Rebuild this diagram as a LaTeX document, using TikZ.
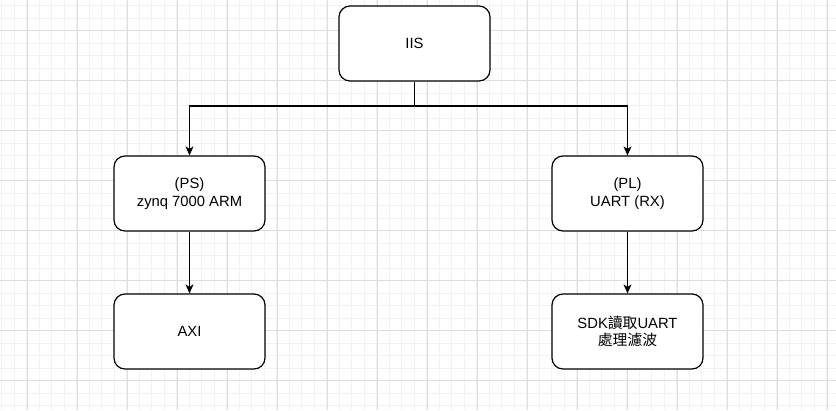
\documentclass[tikz,border=0pt]{standalone}
\usepackage{fontspec}
\setmainfont{Liberation Sans}
\newfontfamily\cjk{Noto Sans CJK TC}
\usetikzlibrary{arrows.meta}

\tikzset{
  block/.style={draw, rounded corners=11pt, line width=1.2pt, fill=white,
    minimum width=151pt, minimum height=75pt, align=center,
    font=\fontsize{14.8}{17.5}\selectfont},
  link/.style={line width=1.2pt, -{Stealth[length=9pt,width=8pt,inset=2.5pt]}}
}

\begin{document}
\begin{tikzpicture}[x=1pt,y=-1pt]

        \useasboundingbox (0,0) rectangle (836,410);

        % grid
        \foreach \k in {0,...,66}
          \draw[black!5, line width=0.9pt] ({1.9+12.5*\k},0) -- ({1.9+12.5*\k},410);
        \foreach \k in {0,...,32}
          \draw[black!5, line width=0.9pt] (0,{5.7+12.5*\k}) -- (836,{5.7+12.5*\k});
        \foreach \k in {0,...,16}
          \draw[black!13, line width=0.9pt] ({27+50*\k},0) -- ({27+50*\k},410);
        \foreach \k in {0,...,7}
          \draw[black!13, line width=0.9pt] (0,{30.7+50*\k}) -- (836,{30.7+50*\k});

        \begin{scope}[every node/.style={block}]
          \node (iis) at (414.5,43.5)  {IIS};
          \node (ps)  at (189.5,193.5) {(PS)\\zynq 7000 ARM};
          \node (pl)  at (627.5,193.5) {(PL)\\UART (RX)};
          \node (axi) at (189.5,331.5) {AXI};
          \node (sdk) at (627.5,331.5) {SDK{\cjk 讀取}UART\\{\cjk 處理濾波}};
        \end{scope}

        \coordinate (split) at (414.5,106);

        \draw[line width=1.2pt] (iis.south) -- (split);
        \draw[link] (split) -| (ps.north);
        \draw[link] (split) -| (pl.north);
        \draw[link] (ps)  -- (axi);
        \draw[link] (pl)  -- (sdk);

      \end{tikzpicture}
\end{document}
